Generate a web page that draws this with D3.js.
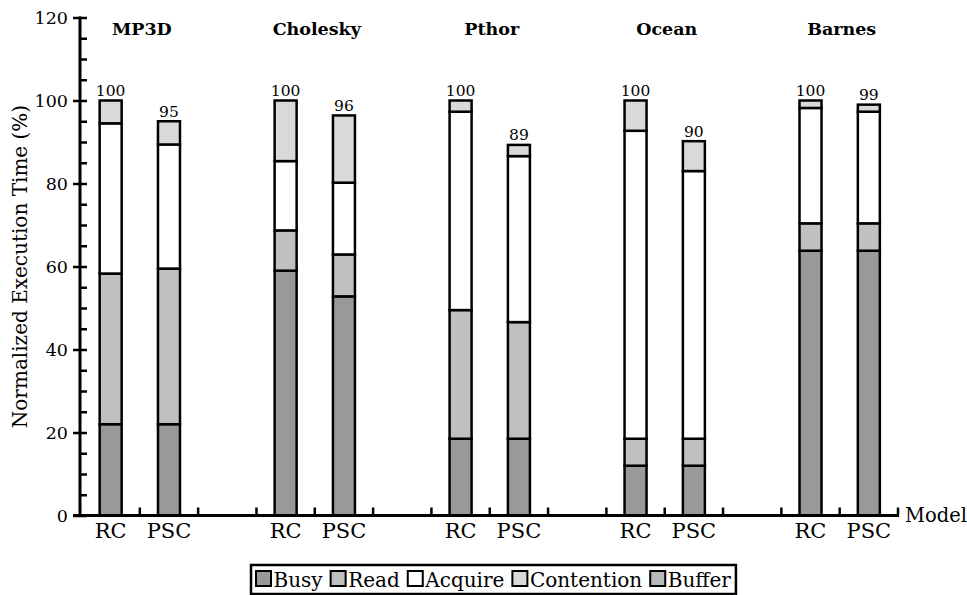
<!DOCTYPE html>
<html><head><meta charset="utf-8">
<script src="https://cdn.jsdelivr.net/npm/d3@7"></script>
<style>body{margin:0;background:#fff}svg{display:block}text{font-family:"DejaVu Serif",serif;fill:#000}</style>
</head><body><svg id="c" width="967" height="595"></svg>
<script>
const benchmarks = ["MP3D","Cholesky","Pthor","Ocean","Barnes"];
const models = ["RC","PSC"];
// values per bar, in order MP3D-RC, MP3D-PSC, Cholesky-RC, ...
const busy       = [22.0, 22.0, 59.0, 52.8, 18.5, 18.5, 12.0, 12.0, 63.8, 63.8];
const readV      = [36.3, 37.5,  9.7, 10.1, 31.0, 28.1,  6.5,  6.5,  6.6,  6.6];
const acquire    = [36.2, 29.9, 16.7, 17.3, 47.8, 40.0, 74.2, 64.5, 27.8, 26.9];
const contention = [ 5.5,  5.6, 14.6, 16.2,  2.7,  2.7,  7.3,  7.2,  1.8,  1.7];
const buffer     = [ 0,    0,    0,    0,    0,    0,    0,    0,    0,    0  ];
const totalLabels = ["100","95","100","96","100","89","100","90","100","99"];
const seriesNames = ["Busy","Read","Acquire","Contention","Buffer"];
const seriesColors = ["#999999","#c0c0c0","#ffffff","#d9d9d9","#b8b8b8"];
const yTicks = [0,20,40,60,80,100,120];
const yTitle = "Normalized Execution Time (%)";
const xTitle = "Model";

const svg = d3.select("#c");
const slots = [];
benchmarks.forEach((b,i)=>{ models.forEach(m=>slots.push(b+"|"+m)); if(i<benchmarks.length-1) slots.push(b+"|gap"); });
const x = d3.scaleBand().domain(slots).range([81.5, 898]).padding(0);
const y = d3.scaleLinear().domain([0,120]).range([515.5, 17.5]);
const axisX = 80;

const bars = [];
benchmarks.forEach((b,bi)=>models.forEach((m,mi)=>{
  const i = bi*2+mi;
  const vals = [busy[i], readV[i], acquire[i], contention[i], buffer[i]];
  let acc = 0;
  const segs = vals.map((v,k)=>{ const s={k, y0:acc, y1:acc+v}; acc+=v; return s; }).filter(s=>s.y1>s.y0);
  bars.push({key:b+"|"+m, segs, total:acc, label:totalLabels[i]});
}));
const bw = 22;
const g = svg.append("g");
bars.forEach(bar=>{
  const cx = x(bar.key)+x.bandwidth()/2;
  g.selectAll(null).data(bar.segs).enter().append("rect")
    .attr("x", cx-bw/2).attr("width", bw)
    .attr("y", d=>y(d.y1)).attr("height", d=>y(d.y0)-y(d.y1))
    .attr("fill", d=>seriesColors[d.k]).attr("stroke","#000").attr("stroke-width",2.5);
  g.append("text").attr("x",cx).attr("y",y(bar.total)-4.5).attr("text-anchor","middle")
    .style("font-size","15.5px").text(bar.label);
});

const yAxisL = d3.axisLeft(y).tickValues(yTicks).tickSize(7).tickPadding(5).tickFormat(d3.format("d"));
const ga = svg.append("g").attr("transform",`translate(${axisX},0)`).call(yAxisL);
ga.select(".domain").remove();
ga.selectAll(".tick line").attr("stroke","#000").attr("stroke-width",2.5);
ga.selectAll(".tick text").style("font-size","17.5px").style("font-family","DejaVu Serif").attr("fill","#000");
const minor = d3.range(0,121,5);
const gb = svg.append("g").attr("transform",`translate(${axisX},0)`).call(d3.axisRight(y).tickValues(minor).tickSize(7).tickFormat(""));
gb.select(".domain").remove();
gb.selectAll(".tick line").attr("stroke","#000").attr("stroke-width",2.5);
svg.append("line").attr("x1",axisX).attr("x2",axisX).attr("y1",y(0)+1).attr("y2",y(120)-1).attr("stroke","#000").attr("stroke-width",3);

svg.append("line").attr("x1",axisX-7).attr("x2",x.range()[1]+1).attr("y1",y(0)).attr("y2",y(0)).attr("stroke","#000").attr("stroke-width",3);
svg.selectAll(null).data(slots).enter().append("line")
  .attr("x1",d=>x(d)+x.bandwidth()).attr("x2",d=>x(d)+x.bandwidth())
  .attr("y1",y(0)).attr("y2",y(0)-8).attr("stroke","#000").attr("stroke-width",2.5);
svg.selectAll(null).data(slots.filter(s=>!s.endsWith("gap"))).enter().append("text")
  .attr("x",d=>x(d)+x.bandwidth()/2).attr("y",538).attr("text-anchor","middle")
  .style("font-size","21px").text(d=>d.split("|")[1]);
svg.append("text").attr("x",905).attr("y",522).style("font-size","19.5px").text(xTitle);

svg.selectAll(null).data(benchmarks).enter().append("text")
  .attr("x",b=>x(b+"|PSC")+2).attr("y",35).attr("text-anchor","middle")
  .style("font-size","17.5px").style("font-weight","bold").text(b=>b);

svg.append("text").attr("transform",`translate(27,${(y(0)+y(120))/2}) rotate(-90)`)
  .attr("text-anchor","middle").style("font-size","20px").text(yTitle);

const lg = svg.append("g");
let lx = 255; const ly = 570, sw = 17;
seriesNames.forEach((n,i)=>{
  lg.append("rect").attr("x",lx+1).attr("y",ly+1).attr("width",sw-2).attr("height",sw-2)
    .attr("fill",seriesColors[i]).attr("stroke","#000").attr("stroke-width",2);
  const t = lg.append("text").attr("x",lx+sw+1.5).attr("y",ly+sw-0.5).style("font-size","20px").text(n);
  lx += sw + 1.5 + t.node().getComputedTextLength() + 7;
});
lg.append("rect").attr("x",251).attr("y",565).attr("width",lx-251-2).attr("height",29)
  .attr("fill","none").attr("stroke","#000").attr("stroke-width",2.5);
</script></body></html>
